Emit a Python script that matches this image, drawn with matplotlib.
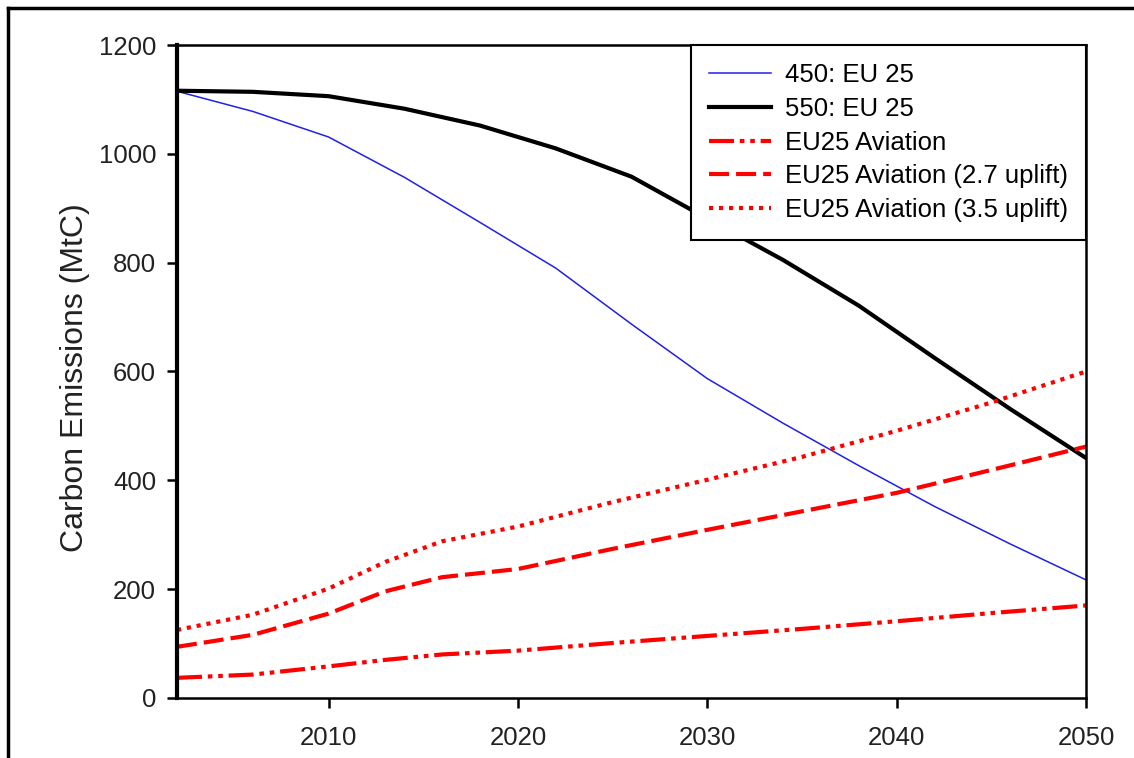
import matplotlib.pyplot as plt
from matplotlib.lines import Line2D

plt.rcParams['font.family'] = ['Liberation Sans', 'DejaVu Sans']

# stabilisation pathways (MtC)
years = [2002, 2006, 2010, 2014, 2018, 2022, 2026, 2030, 2034, 2038, 2042, 2046, 2050]
eu450 = [1115, 1078, 1031, 957, 874, 790, 687, 587, 505, 427, 352, 283, 217]
eu550 = [1116, 1114, 1106, 1083, 1052, 1010, 958, 881, 805, 721, 625, 531, 441]

# aviation projections (MtC)
years_av = [2002, 2006, 2010, 2013, 2016, 2020, 2025, 2030, 2035, 2040, 2045, 2050]
aviation = [37, 43, 58, 70, 80, 87, 101, 114, 127, 141, 156, 170]
uplift27 = [94, 116, 155, 196, 222, 237, 274, 309, 343, 377, 419, 462]
uplift35 = [125, 153, 201, 250, 288, 315, 360, 401, 443, 491, 543, 600]

fig = plt.figure(figsize=(11.34, 7.58), dpi=100)
ax = fig.add_axes([0.1561, 0.0792, 0.8016, 0.8614])

ax.plot(years, eu450, color='#2020e6', lw=1.1, label='450: EU 25')
ax.plot(years, eu550, color='black', lw=3, label='550: EU 25')
ax.plot(years_av, aviation, color='#ff0000', lw=3, dashes=(6, 1.4, 1.1, 1.4, 1.1, 1.4),
        label='EU25 Aviation')
ax.plot(years_av, uplift27, color='#ff0000', lw=3, dashes=(4.8, 1.7),
        label='EU25 Aviation (2.7 uplift)')
ax.plot(years_av, uplift35, color='#ff0000', lw=3, dashes=(1, 1.4),
        label='EU25 Aviation (3.5 uplift)')

ax.set_xlim(2002, 2050)
ax.set_ylim(0, 1200)
ax.set_xticks([2010, 2020, 2030, 2040, 2050])
ax.set_yticks(range(0, 1201, 200))
ax.tick_params(axis='both', direction='out', length=7, width=1.8,
               labelsize=18.5, colors='black', labelcolor='#222222')
ax.tick_params(axis='y', pad=8)
ax.tick_params(axis='x', pad=13)
for side in ['top', 'right', 'bottom']:
    ax.spines[side].set_linewidth(1.8)
ax.spines['left'].set_linewidth(3)
ax.set_ylabel('Carbon Emissions (MtC)', fontsize=23, color='#222222', labelpad=18)
ax.yaxis.set_label_coords(-0.096, 0.49)

leg = ax.legend(loc='upper right', fontsize=18.5, frameon=True, fancybox=False,
                edgecolor='black', borderpad=0.7, handlelength=2.4,
                handletextpad=0.55, labelspacing=0.38, borderaxespad=0,
                framealpha=1)
leg.get_frame().set_linewidth(1.5)

# outer frame of the picture
fig.add_artist(Line2D([8 / 1134, 8 / 1134], [0, 1 - 8 / 758], color='black', lw=2.5,
                      transform=fig.transFigure))
fig.add_artist(Line2D([8 / 1134, 1], [1 - 8 / 758, 1 - 8 / 758], color='black', lw=2.5,
                      transform=fig.transFigure))

fig.savefig('out.png', dpi=100)
